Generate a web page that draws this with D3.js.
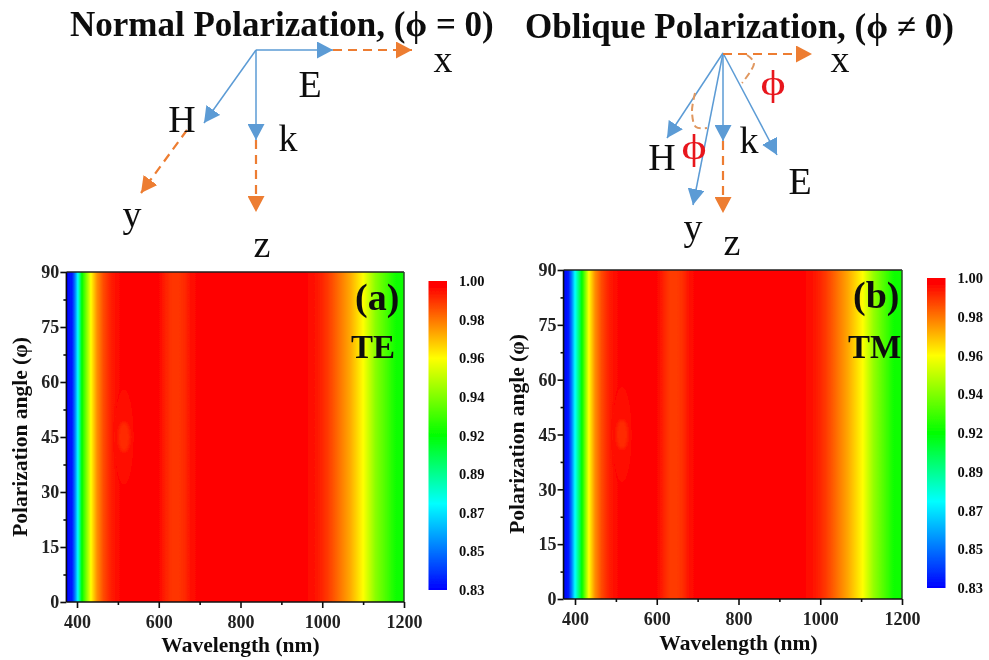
<!DOCTYPE html>
<html><head><meta charset="utf-8">
<script src="https://cdn.jsdelivr.net/npm/d3@7"></script>
<style>
html,body{margin:0;padding:0;background:#fff}
svg{display:block}
text{font-family:"Liberation Serif",serif;fill:#111}
.bold{font-weight:bold}
.axis path,.axis line{stroke:#111;stroke-width:1.6}
.axis text{font-family:"Liberation Serif",serif;font-weight:bold;font-size:18px;fill:#222}
</style></head><body>
<svg id="c" width="989" height="660"></svg>
<script>
// ---- data ----
const tickWavelengths=[400,600,800,1000,1200];
const minorWavelengths=[500,700,900,1100];
const tickAngles=[0,15,30,45,60,75,90];
const minorAngles=[7.5,22.5,37.5,52.5,67.5,82.5];
const colorbarLabels=["0.83","0.85","0.87","0.89","0.92","0.94","0.96","0.98","1.00"];

const wavelengthsA=[374,388,395,402,412,434,449,464,482,498,510,530,560,600,615,632,650,665,680,700,780,900,960,987,1010,1026,1068,1100,1130,1178,1200];
const reflectA    =[.83,.835,.853,.8775,.915,.9575,.975,.985,.992,.9955,.9965,.9975,.998,.9965,.992,.989,.989,.991,.995,.997,.998,.998,.9965,.9938,.989,.9845,.971,.9575,.938,.918,.917];
const wavelengthsB=[372,384,392,400,417,434,449,464,482,498,510,530,560,600,615,632,650,665,680,700,780,900,960,987,1010,1026,1068,1104,1130,1178,1200];
const reflectB    =[.83,.835,.853,.8775,.915,.9575,.975,.985,.992,.9955,.9965,.9975,.998,.9965,.992,.988,.988,.990,.995,.997,.998,.998,.9965,.9938,.989,.9845,.971,.9575,.94,.918,.917];

const spotCentre=[515,45];
const spotLevels=[.9955,.9905];
const spotHalfWidthNm=[24,14];
const spotHalfHeightDeg=[13,4];

const colorKnots=[.83,.8775,.915,.9575,.997,1];
const colorNames=["#0000ff","#00ffff","#00ff00","#ffff00","#ff0000","#ff0000"];
const color=d3.scaleLinear().domain(colorKnots).range(colorNames);

const svg=d3.select("#c");
const defs=svg.append("defs");
defs.append("filter").attr("id","soft").attr("x","-5%").attr("y","-5%").attr("width","110%").attr("height","110%")
  .append("feGaussianBlur").attr("stdDeviation",0.55);
defs.append("filter").attr("id","spot").attr("x","-50%").attr("y","-50%").attr("width","200%").attr("height","200%")
  .append("feGaussianBlur").attr("stdDeviation",1.8);
[["o","#ed7d31"],["b","#5b9bd5"]].forEach(([id,c])=>{
  defs.append("marker").attr("id","head-"+id).attr("viewBox","0 0 16 17").attr("refX",16).attr("refY",8.5)
    .attr("markerUnits","userSpaceOnUse").attr("markerWidth",16).attr("markerHeight",17).attr("orient","auto")
    .append("path").attr("d","M0,0L16,8.5L0,17Z").attr("fill",c);
});
const root=svg.append("g").attr("filter","url(#soft)");

function panel(o){
  const x=d3.scaleLinear().domain([400,1200]).range([o.x400,o.right]);
  const y=d3.scaleLinear().domain([0,90]).range([o.bottom,o.top]);
  const left=x(o.wl[0]);
  const g=root.append("g");
  const gid="grad-"+o.id;
  const grad=defs.append("linearGradient").attr("id",gid);
  const span=o.wl[o.wl.length-1]-o.wl[0];
  grad.selectAll("stop").data(o.wl).join("stop")
    .attr("offset",d=>(d-o.wl[0])/span).attr("stop-color",(d,i)=>color(o.val[i]));
  g.append("rect").attr("x",left).attr("y",y(90)).attr("width",x(1200)-left).attr("height",y(0)-y(90)).attr("fill",`url(#${gid})`);
  // 45 degree feature
  g.append("g").attr("filter","url(#spot)").selectAll("ellipse").data(spotLevels).join("ellipse")
    .attr("cx",x(spotCentre[0])).attr("cy",y(spotCentre[1]))
    .attr("rx",(d,i)=>x(spotCentre[0]+spotHalfWidthNm[i])-x(spotCentre[0]))
    .attr("ry",(d,i)=>y(spotCentre[1]-spotHalfHeightDeg[i])-y(spotCentre[1]))
    .attr("fill",d=>color(d));
  // frame
  g.append("line").attr("x1",left).attr("x2",x(1200)).attr("y1",y(90)).attr("y2",y(90)).attr("stroke","#222").attr("stroke-width",1.5);
  g.append("line").attr("x1",x(1200)).attr("x2",x(1200)).attr("y1",y(90)).attr("y2",y(0)).attr("stroke","#2a4a2a").attr("stroke-width",1.5);
  // axes
  const ax=d3.axisBottom(x).tickValues(tickWavelengths).tickSize(6).tickPadding(7).tickFormat(d3.format("d"));
  const axG=g.append("g").attr("class","axis").attr("transform",`translate(0,${y(0)})`).call(ax);
  axG.select(".domain").attr("d",`M${left},0H${x(1200)}`);
  g.append("g").attr("class","axis").attr("transform",`translate(0,${y(0)})`)
    .call(d3.axisBottom(x).tickValues(minorWavelengths).tickSize(3).tickFormat("")).select(".domain").remove();
  const ay=d3.axisLeft(y).tickValues(tickAngles).tickSize(6).tickPadding(1);
  g.append("g").attr("class","axis").attr("transform",`translate(${left},0)`).call(ay).select(".domain").attr("d",`M0,${y(0)}V${y(90)}`);
  g.append("g").attr("class","axis").attr("transform",`translate(${left},0)`)
    .call(d3.axisLeft(y).tickValues(minorAngles).tickSize(3).tickFormat("")).select(".domain").remove();
  // titles
  g.append("text").attr("class","bold").attr("x",(x(400)+x(1200))/2).attr("y",o.xTitleY).attr("text-anchor","middle")
    .attr("font-size",21.5).attr("fill","#222").text("Wavelength (nm)");
  g.append("text").attr("class","bold").attr("transform",`translate(${o.yTitleX},${o.yTitleC})rotate(-90)`).attr("text-anchor","middle")
    .attr("font-size",21.5).text("Polarization angle (φ)");
  g.append("text").attr("class","bold").attr("x",o.tag[1]).attr("y",o.tag[2]).attr("font-size",38).text(o.tag[0]);
  g.append("text").attr("class","bold").attr("x",o.pol[1]).attr("y",o.pol[2]).attr("font-size",o.pol[3]).text(o.pol[0]);
  // colour bar
  const cb=d3.scaleLinear().domain([0,colorbarLabels.length-1]).range([o.cbBottom,o.cbTop]);
  const t2v=d3.scaleLinear().domain([0,colorbarLabels.length-1]).range([.83,1]);
  const cg=defs.append("linearGradient").attr("id",gid+"-cb").attr("x1",0).attr("x2",0).attr("y1",1).attr("y2",0);
  cg.selectAll("stop").data(colorKnots).join("stop")
    .attr("offset",d=>t2v.invert(d)/(colorbarLabels.length-1)).attr("stop-color",d=>color(d));
  g.append("rect").attr("x",o.cbX).attr("y",o.cbTop).attr("width",o.cbW).attr("height",o.cbBottom-o.cbTop).attr("fill",`url(#${gid}-cb)`);
  g.selectAll("text.cb").data(colorbarLabels).join("text").attr("class","cb bold")
    .attr("x",o.cbX+o.cbW+12).attr("y",(d,i)=>cb(i)+5).attr("font-size",14.5).attr("fill","#333").text(d=>d);
}
panel({id:"a",wl:wavelengthsA,val:reflectA,x400:77,right:404,top:272,bottom:602,xTitleY:652,yTitleX:27,yTitleC:437,
  tag:["(a)",355,310],pol:["TE",351,358,33],cbX:428.5,cbW:18.5,cbTop:281,cbBottom:590});
panel({id:"b",wl:wavelengthsB,val:reflectB,x400:575,right:902,top:270,bottom:599,xTitleY:650,yTitleX:524,yTitleC:434,
  tag:["(b)",853,308],pol:["TM",848,358,33],cbX:927,cbW:18.5,cbTop:278,cbBottom:588});

// ---- polarization diagrams ----
const orange="#ed7d31",blue="#5b9bd5";
function arrows(list,col,id,dash){
  root.append("g").selectAll("line").data(list).join("line")
    .attr("x1",d=>d[0]).attr("y1",d=>d[1]).attr("x2",d=>d[2]).attr("y2",d=>d[3])
    .attr("stroke",col).attr("stroke-width",dash?2.2:1.5).attr("stroke-dasharray",dash?"9 6":null)
    .attr("marker-end",`url(#head-${id})`);
}
arrows([[256,50,333,50],[256,50,204,123],[256,50,256,140]],blue,"b",false);
arrows([[333,50,412,50],[187,130,141,193],[256,140,256,212]],orange,"o",true);
arrows([[723,53,777,155],[723,53,667,138],[723,53,693,205],[723,53,723,141]],blue,"b",false);
arrows([[723,54,812,54],[723,141,723,213]],orange,"o",true);
const arcs=[[[747,55],[754,63],[742,83]],[[695,93],[692,112],[696,127],[707,128]]];
root.append("g").selectAll("path").data(arcs).join("path")
  .attr("d",d3.line().curve(d3.curveCatmullRom)).attr("fill","none").attr("stroke","#e0975f").attr("stroke-width",2).attr("stroke-dasharray","7 4");

const titles=[["Normal Polarization, (ϕ = 0)",70,36],["Oblique Polarization, (ϕ ≠ 0)",525,38]];
root.append("g").selectAll("text").data(titles).join("text").attr("class","bold")
  .attr("x",d=>d[1]).attr("y",d=>d[2]).attr("font-size",35).text(d=>d[0]);
const labels=[["x",443,72],["E",310,97],["H",182,132],["k",288,151],["y",132,227],["z",262,257],
  ["x",840,72],["H",662,170],["k",749,153],["E",800,194],["y",693,240],["z",732,255]];
root.append("g").selectAll("text").data(labels).join("text")
  .attr("x",d=>d[1]).attr("y",d=>d[2]).attr("text-anchor","middle").attr("font-size",38).text(d=>d[0]);
const phis=[[773,95],[694,159]];
root.append("g").selectAll("text").data(phis).join("text")
  .attr("transform",d=>`translate(${d[0]},${d[1]})scale(1.35,1)`).attr("text-anchor","middle").attr("font-size",36).style("fill","#e8141c").text("ϕ");
</script></body></html>
